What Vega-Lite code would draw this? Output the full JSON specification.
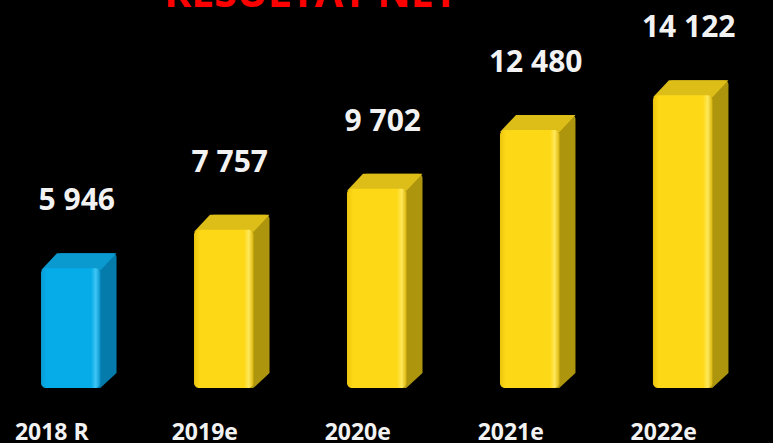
{
  "$schema": "https://vega.github.io/schema/vega-lite/v6.json",
  "width": 773,
  "height": 443,
  "autosize": {"type": "none"},
  "padding": 0,
  "background": "#000000",
  "config": {
    "view": {"stroke": null},
    "locale": {"number": {"decimal": ",", "thousands": " ", "grouping": [3], "currency": ["", " €"]}}
  },
  "datasets": {
    "bars": [
      {"year": "2018 R", "kind": "R", "value": 5946},
      {"year": "2019e", "kind": "e", "value": 7757},
      {"year": "2020e", "kind": "e", "value": 9702},
      {"year": "2021e", "kind": "e", "value": 12480},
      {"year": "2022e", "kind": "e", "value": 14122}
    ],
    "heading": [{"text": "RÉSULTAT NET"}]
  },
  "data": {"name": "bars"},
  "encoding": {
    "x": {
      "field": "year",
      "type": "nominal",
      "sort": null,
      "scale": {"type": "band", "paddingInner": 0.611, "paddingOuter": 0.332, "align": 0.404},
      "axis": {
        "title": null,
        "domain": false,
        "ticks": false,
        "tickSize": 0,
        "grid": false,
        "labelAngle": 0,
        "labelPadding": 0,
        "labelBaseline": "alphabetic",
        "offset": -4,
        "labelOffset": -19,
        "labelColor": "#F2F2F2",
        "labelFont": "Open Sans",
        "labelFontSize": 23,
        "labelFontWeight": "bold"
      }
    }
  },
  "layer": [
    {
      "mark": {"type": "bar", "xOffset": 16, "x2Offset": 16, "yOffset": -15, "y2Offset": 0, "cornerRadius": 4},
      "encoding": {
        "y": {"field": "value", "type": "quantitative", "scale": {"domain": [-2316, 18620], "nice": false, "zero": false}, "axis": null},
        "y2": {"datum": 280},
        "color": {"condition": {"test": "datum.kind === 'R'", "value": "#047BAA"}, "value": "#AE950E"}
      }
    },
    {
      "mark": {"type": "point", "shape": "M0.59,0L0.915,-0.3L0.95,-0.3L0.95,0.1L0.59,0.1Z", "size": 10000, "filled": true, "opacity": 1, "strokeWidth": 0, "color": "#000000"},
      "encoding": {
        "y": {"datum": 280}
      }
    },
    {
      "mark": {"type": "point", "shape": "M-0.595,0.04L0.595,0.04L0.915,-0.3L-0.275,-0.3Z", "size": 10000, "filled": true, "opacity": 1, "strokeWidth": 0},
      "encoding": {
        "y": {"field": "value", "type": "quantitative"},
        "color": {"condition": {"test": "datum.kind === 'R'", "value": "#0A9AD0"}, "value": "#DDBD18"}
      }
    },
    {
      "mark": {"type": "bar", "cornerRadius": 5},
      "encoding": {
        "y": {"field": "value", "type": "quantitative"},
        "y2": {"datum": 280},
        "fill": {
          "condition": {
            "test": "datum.kind === 'R'",
            "value": {"gradient": "linear", "x1": 0, "y1": 0, "x2": 1, "y2": 0, "stops": [
              {"offset": 0, "color": "#0A9DD6"},
              {"offset": 0.1, "color": "#05ACE8"},
              {"offset": 0.84, "color": "#05ACE8"},
              {"offset": 0.92, "color": "#3FC6F6"},
              {"offset": 1, "color": "#0590C6"}
            ]}
          },
          "value": {"gradient": "linear", "x1": 0, "y1": 0, "x2": 1, "y2": 0, "stops": [
            {"offset": 0, "color": "#EAC50E"},
            {"offset": 0.1, "color": "#FDD817"},
            {"offset": 0.84, "color": "#FDD817"},
            {"offset": 0.92, "color": "#FFE85A"},
            {"offset": 1, "color": "#D8B40C"}
          ]}
        }
      }
    },
    {
      "mark": {"type": "text", "baseline": "alphabetic", "align": "center", "dy": -58, "dx": 6, "font": "Open Sans", "fontSize": 30, "fontWeight": "bold", "color": "#F2F2F2"},
      "encoding": {
        "y": {"field": "value", "type": "quantitative"},
        "text": {"field": "value", "type": "quantitative", "format": ",d"}
      }
    },
    {
      "data": {"name": "heading"},
      "mark": {"type": "text", "baseline": "alphabetic", "align": "center", "dx": 87, "font": "Open Sans", "fontSize": 41, "fontWeight": "bold", "color": "#FF0000"},
      "encoding": {
        "x": {"datum": "2019e"},
        "y": {"datum": 18266},
        "text": {"field": "text"}
      }
    }
  ]
}
